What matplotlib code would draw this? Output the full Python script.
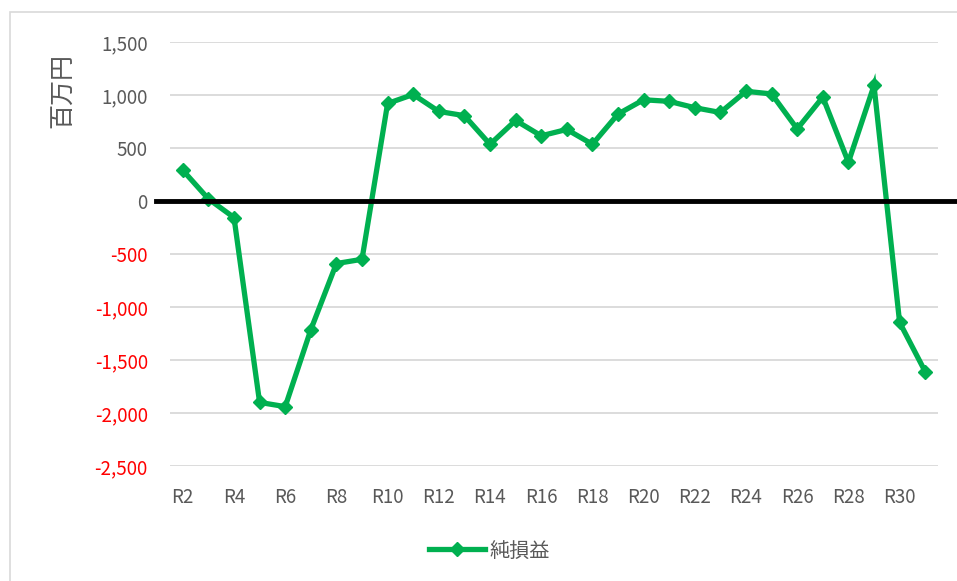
import matplotlib.pyplot as plt
from matplotlib.patches import Rectangle
from matplotlib.transforms import blended_transform_factory

plt.rcParams['font.family'] = ['Noto Sans CJK JP', 'DejaVu Sans']

# 年度ラベル (R2 .. R31)
years = [f"R{i}" for i in range(2, 32)]
# 純損益 (百万円)
net_income = [290, 20, -156, -1900, -1940, -1215, -590, -550, 920, 1005,
              845, 805, 535, 760, 615, 675, 535, 820, 955, 940,
              880, 835, 1035, 1010, 680, 980, 365, 1090, -1145, -1610]
yticks = [1500, 1000, 500, 0, -500, -1000, -1500, -2000, -2500]

green = '#00B050'
gray = '#595959'

fig = plt.figure(figsize=(9.57, 5.81), dpi=100)
ax = fig.add_axes([170 / 957, 1 - 466 / 581, (938 - 170) / 957, (466 - 42) / 581])

x = list(range(len(years)))
ax.plot(x, net_income, color=green, lw=3.8, marker='D', ms=7,
        label='純損益', zorder=3, solid_joinstyle='miter')

# zero line, sticks out past the plot area like the Excel shape
tr = blended_transform_factory(ax.transAxes, ax.transData)
ax.plot([-0.018, 1.03], [0, 0], color='black', lw=3.5, transform=tr,
        clip_on=False, zorder=4)

ax.set_xlim(-0.5, len(years) - 0.5)
ax.set_ylim(-2500, 1500)
ax.set_yticks(yticks)
ax.set_yticklabels([f"{v:,}" for v in yticks], fontsize=13.5)
for lab, v in zip(ax.get_yticklabels(), yticks):
    lab.set_color('#FF0000' if v < 0 else gray)

ax.set_xticks(x[::2])
ax.set_xticklabels(years[::2], fontsize=13.5, color=gray)
ax.tick_params(length=0)
ax.tick_params(axis='y', pad=16)
ax.tick_params(axis='x', pad=15)

ax.grid(axis='y', color='#D9D9D9', lw=1.3)
ax.set_axisbelow(True)
for s in ax.spines.values():
    s.set_visible(False)

ax.set_ylabel('百万円', fontsize=18, color=gray)
ax.yaxis.set_label_coords(-0.122, 0.885)

fig.legend(loc='center', bbox_to_anchor=(489 / 957, 1 - 551 / 581), frameon=False,
           fontsize=14.5, labelcolor=gray, handlelength=2.8, handletextpad=0.2)

# chart area border
fig.patches.append(Rectangle((10 / 957, -0.05), 1.1, 1 - 12 / 581 + 0.05,
                             transform=fig.transFigure, fill=False,
                             edgecolor='#D9D9D9', lw=1.2))

fig.savefig('out.png', dpi=100)
